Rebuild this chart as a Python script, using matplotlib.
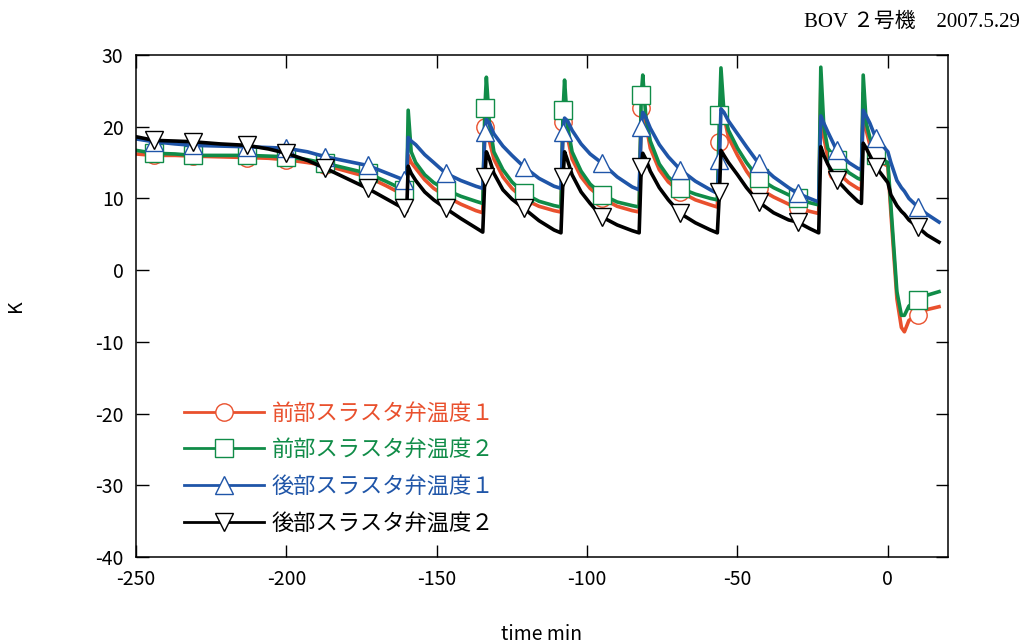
import matplotlib
matplotlib.use("Agg")
import matplotlib.pyplot as plt

plt.rcParams['font.family'] = ['Noto Sans CJK JP', 'DejaVu Sans']
plt.rcParams['axes.unicode_minus'] = False

# time axis (min), shared by all four series
t = [-250, -244, -237, -231, -222, -213, -206, -200, -193, -187, -180, -173, -167, -161, -160.0,
     -159.5, -158.5, -157, -154, -151, -147, -142, -137, -134.7,
     -134, -133.5, -132.5, -131, -128, -125, -121, -116, -111, -108.7,
     -108, -107.5, -106.5, -105, -102, -99, -95, -90, -85, -82.7,
     -82, -81.5, -80.5, -79, -76, -73, -69, -64, -59, -56.7,
     -56, -55.5, -54.5, -53, -50, -47, -43, -38, -33, -30, -26, -23.0,
     -22.3, -21.3, -20, -17, -13, -10, -8.8,
     -8.2, -7.2, -6, -4, -2, 0, 1, 3, 4.5, 5.5, 7, 10, 13, 17]

front1 = [16.2, 16.0, 16.0, 15.9, 15.8, 15.7, 15.6, 15.4, 15.0, 14.6, 13.8, 13.0, 11.8, 10.5, 10.2,
          16.0, 15.0, 14.2, 12.6, 11.4, 10.3, 9.2, 8.3, 8.0,
          20.0, 21.0, 18.0, 15.5, 13.0, 11.4, 9.9, 8.9, 8.3, 8.1,
          20.7, 21.5, 18.5, 15.5, 13.0, 11.4, 10.0, 8.9, 8.3, 8.1,
          22.6, 23.5, 20.5, 17.0, 14.0, 12.3, 10.9, 9.8, 9.1, 8.8,
          17.9, 23.7, 21.5, 18.5, 16.0, 13.8, 11.4, 10.2, 9.2, 8.6, 8.2, 7.9,
          25.5, 18.5, 15.8, 13.7, 12.2, 11.4, 11.2,
          24.7, 19.5, 17.5, 15.8, 15.0, 14.5, 8.0, -4.0, -8.0, -8.6, -7.0, -6.3, -5.5, -5.1]

front2 = [16.7, 16.3, 16.2, 16.0, 16.0, 16.0, 15.9, 15.8, 15.4, 14.9, 14.2, 13.5, 12.4, 11.2, 11.0,
          22.3, 16.5, 15.0, 13.3, 12.2, 11.2, 10.3, 9.6, 9.3,
          22.6, 26.9, 20.5, 16.5, 14.0, 12.3, 10.7, 9.6, 9.0, 8.8,
          22.3, 26.5, 20.0, 16.5, 13.8, 12.0, 10.5, 9.5, 9.0, 8.8,
          24.4, 27.2, 21.5, 18.0, 14.8, 13.0, 11.4, 10.6, 10.0, 9.8,
          21.6, 28.2, 22.0, 19.5, 17.0, 15.0, 12.8, 11.5, 10.5, 10.0, 9.4, 9.1,
          28.3, 20.0, 17.0, 15.3, 13.6, 12.8, 12.6,
          27.2, 20.5, 18.5, 16.0, 15.5, 15.0, 9.0, -3.0, -6.3, -6.3, -5.0, -4.2, -3.5, -3.0]

rear1 = [18.3, 17.9, 17.6, 17.4, 17.3, 17.2, 17.1, 17.0, 16.5, 15.8, 15.2, 14.6, 13.6, 12.6, 12.8,
         18.5, 18.0, 17.5, 16.1, 15.0, 13.5, 12.5, 11.7, 11.4,
         19.3, 21.0, 20.5, 19.0, 17.3, 16.0, 14.4, 12.8, 11.7, 11.4,
         19.3, 21.2, 20.8, 19.5, 17.6, 16.2, 14.9, 13.0, 11.6, 11.2,
         20.0, 22.0, 21.3, 19.8, 17.5, 15.8, 14.0, 12.4, 11.2, 10.7,
         15.3, 22.5, 22.0, 20.8, 19.0, 17.2, 14.9, 13.0, 11.5, 10.7, 10.0, 9.5,
         21.5, 20.5, 19.3, 16.7, 15.0, 14.2, 14.0,
         22.3, 21.5, 20.5, 18.4, 17.5, 16.5, 15.0, 12.5, 11.5, 11.0, 10.0, 8.8, 7.8, 6.7]

rear2 = [18.6, 18.1, 18.0, 17.9, 17.6, 17.4, 16.9, 16.3, 15.3, 14.2, 12.8, 11.4, 10.0, 8.6, 8.2,
         14.5, 13.5, 12.5, 10.9, 9.8, 8.6, 7.2, 5.9, 5.3,
         13.0, 16.5, 15.5, 13.5, 11.2, 9.9, 8.6, 6.9, 5.6, 5.2,
         13.0, 16.5, 15.3, 13.3, 10.9, 9.3, 7.4, 6.3, 5.5, 5.2,
         14.4, 16.3, 15.5, 13.8, 11.5, 9.8, 7.9, 6.6, 5.6, 5.2,
         10.9, 16.7, 16.0, 15.0, 13.3, 11.5, 9.5, 8.0, 7.0, 6.7, 5.8, 5.2,
         17.2, 16.0, 14.8, 12.6, 10.8, 9.6, 9.3,
         17.7, 17.0, 16.0, 14.4, 13.3, 12.2, 10.5, 9.0, 8.2, 7.8, 7.0, 6.0, 4.9, 3.9]

marker_t = [-244, -231, -213, -200, -187, -173, -161, -147, -134, -121, -108, -95, -82,
            -69, -56, -43, -30, -17, -4, 10]

labels = ['前部スラスタ弁温度１', '前部スラスタ弁温度２', '後部スラスタ弁温度１', '後部スラスタ弁温度２']
colors = ['#e9502d', '#108c48', '#1f55a8', '#000000']
markers = ['o', 's', '^', 'v']

mark_idx = [t.index(m) for m in marker_t]

fig = plt.figure(figsize=(10.28, 6.44), dpi=100)
ax = fig.add_axes([0.1323, 0.1351, 0.7899, 0.7795])

for y, c, m, lab in zip([front1, front2, rear1, rear2], colors, markers, labels):
    ax.plot(t, y, color=c, lw=2.6, marker=m, markevery=mark_idx, markersize=12.5,
            markerfacecolor='white', markeredgecolor=c, markeredgewidth=1.0, label=lab)

ax.set_xlim(-250, 20)
ax.set_ylim(-40, 30)
ax.set_xticks(range(-250, 1, 50))
ax.set_yticks(range(-40, 31, 10))
ax.tick_params(direction='in', length=9, width=1, top=True, right=True, labelsize=14, pad=9)
for s in ax.spines.values():
    s.set_linewidth(1.1)

ax.set_xlabel('time min', fontsize=14, labelpad=24)
ax.set_ylabel('K', fontsize=14, labelpad=50)

leg = ax.legend(loc='upper left', bbox_to_anchor=(0.045, 0.332), frameon=False, fontsize=16,
                handlelength=3.6, handletextpad=0.35, labelspacing=0.62, borderpad=0)
for line in leg.get_lines():
    line.set_linewidth(2.0)
for txt, c in zip(leg.get_texts(), colors):
    txt.set_color(c)

fig.text(0.992, 0.965, 'BOV ２号機　2007.5.29', ha='right', va='center', fontsize=15,
         family=['Liberation Serif', 'Noto Sans CJK JP'])

fig.savefig('out.png', dpi=100)
